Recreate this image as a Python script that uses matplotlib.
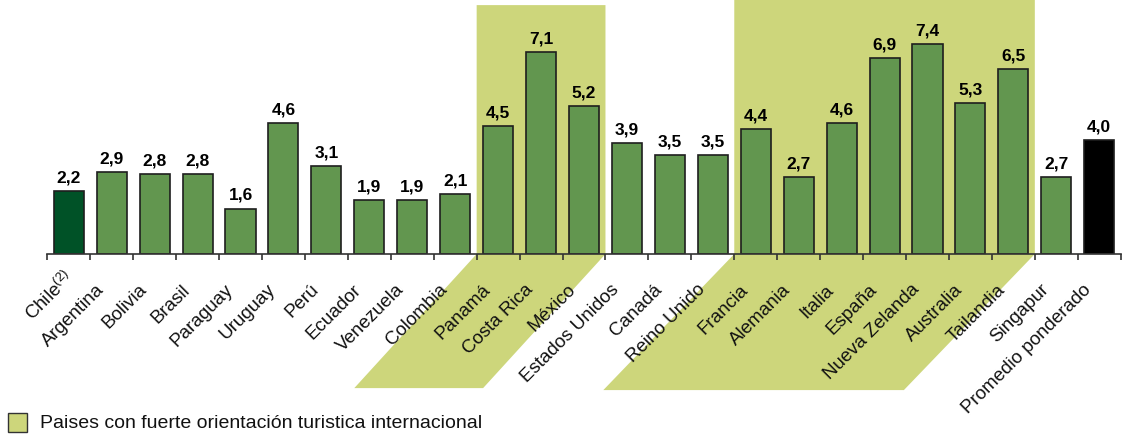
import matplotlib
matplotlib.use("Agg")
import matplotlib.pyplot as plt
from matplotlib.patches import Polygon, Rectangle

plt.rcParams['font.family'] = ['Liberation Sans', 'DejaVu Sans']
plt.rcParams['mathtext.fontset'] = 'custom'
plt.rcParams['mathtext.rm'] = 'Liberation Sans'

# datos del gráfico
paises = ["Chile$^{\\mathregular{(2)}}$", "Argentina", "Bolivia", "Brasil", "Paraguay", "Uruguay",
          "Perú", "Ecuador", "Venezuela", "Colombia", "Panamá", "Costa Rica", "México",
          "Estados Unidos", "Canadá", "Reino Unido", "Francia", "Alemania", "Italia",
          "España", "Nueva Zelanda", "Australia", "Tailandia", "Singapur", "Promedio ponderado"]
valores = [2.2, 2.9, 2.8, 2.8, 1.6, 4.6, 3.1, 1.9, 1.9, 2.1, 4.5, 7.1, 5.2,
           3.9, 3.5, 3.5, 4.4, 2.7, 4.6, 6.9, 7.4, 5.3, 6.5, 2.7, 4.0]
# grupos con fuerte orientación turística (índice inicial, índice final)
grupos_turisticos = [(10, 12), (16, 22)]
leyenda = "Paises con fuerte orientación turistica internacional"

verde = '#62964f'
verde_chile = '#005227'
amarillo = '#cdd67b'

colores = [verde] * len(valores)
colores[0] = verde_chile
colores[-1] = 'black'

fig = plt.figure(figsize=(11.22, 4.38), dpi=100)
ax = fig.add_axes([47.3 / 1122, 184 / 438, 1073.4 / 1122, 254 / 438])
n = len(valores)
ax.set_xlim(-0.5, n - 0.5)
ax.set_ylim(0, 8.94)

# zonas resaltadas (rectángulo + paralelogramo bajo el eje)
formas = [(8.76, 2.85, 4.72), (9.5, 3.05, 4.79)]
for (i0, i1), (top, skew, depth) in zip(grupos_turisticos, formas):
    x0, x1 = i0 - 0.5, i1 + 0.5
    pts = [(x0, top), (x1, top), (x1, 0), (x1 - skew, -depth), (x0 - skew, -depth), (x0, 0)]
    ax.add_patch(Polygon(pts, closed=True, facecolor=amarillo, edgecolor='none',
                         zorder=0, clip_on=False))

x = range(n)
ax.bar(x, valores, width=0.7, color=colores, edgecolor='#1e1e1e', linewidth=1.2, zorder=2)

for i, v in enumerate(valores):
    ax.annotate(f"{v:.1f}".replace('.', ','), (i, v), xytext=(0, 4), textcoords='offset points',
                ha='center', va='bottom', fontsize=12.5, fontweight='bold', color='black')

for i, nombre in enumerate(paises):
    dx, dy = -7.5, -24
    if i == 0:
        # el superíndice sobresale más allá del final del nombre
        dx, dy = dx + 9, dy + 9
    ax.annotate(nombre, (i, 0), xytext=(dx, dy), textcoords='offset points',
                rotation=45, ha='right', va='center', rotation_mode='anchor',
                fontsize=13.5, color='#111111', annotation_clip=False, zorder=5)

# ejes
for s in ['top', 'right', 'left']:
    ax.spines[s].set_visible(False)
ax.spines['bottom'].set_color('#333333')
ax.spines['bottom'].set_linewidth(1.2)
ax.set_yticks([])
ax.set_xticks([i - 0.5 for i in range(n + 1)])
ax.set_xticklabels([])
ax.tick_params(axis='x', direction='out', length=4, width=1.2, color='#333333')

# leyenda
fig.patches.append(Rectangle((8 / 1122, 6 / 438), 19 / 1122, 19 / 438, transform=fig.transFigure,
                             facecolor=amarillo, edgecolor='#333333', linewidth=1.0))
fig.text(40 / 1122, 15 / 438, leyenda, fontsize=14, va='center', ha='left', color='#111111')

plt.savefig("out.png", dpi=100)
